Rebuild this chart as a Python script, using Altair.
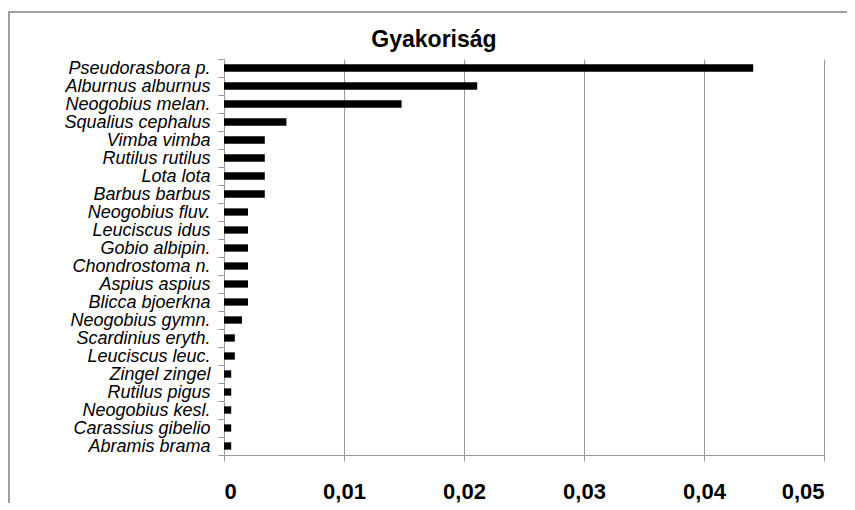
import altair as alt
import pandas as pd

species = [
    "Pseudorasbora p.", "Alburnus alburnus", "Neogobius melan.", "Squalius cephalus",
    "Vimba vimba", "Rutilus rutilus", "Lota lota", "Barbus barbus",
    "Neogobius fluv.", "Leuciscus idus", "Gobio albipin.", "Chondrostoma n.",
    "Aspius aspius", "Blicca bjoerkna", "Neogobius gymn.", "Scardinius eryth.",
    "Leuciscus leuc.", "Zingel zingel", "Rutilus pigus", "Neogobius kesl.",
    "Carassius gibelio", "Abramis brama",
]
frequency = [
    0.0441, 0.0211, 0.0148, 0.0052,
    0.0034, 0.0034, 0.0034, 0.0034,
    0.0020, 0.0020, 0.0020, 0.0020,
    0.0020, 0.0020, 0.0015, 0.0009,
    0.0009, 0.0006, 0.0006, 0.0006,
    0.0006, 0.0006,
]
x_ticks = [0, 0.01, 0.02, 0.03, 0.04, 0.05]
title_text = "Gyakoriság"

df = pd.DataFrame({"faj": species, "gyakorisag": frequency})

bars = alt.Chart(df).mark_bar(size=7.3, color="black").encode(
    y=alt.Y(
        "faj:N",
        sort=species,
        title=None,
        scale=alt.Scale(paddingInner=0, paddingOuter=0),
        axis=alt.Axis(
            tickBand="extent",
            tickSize=6,
            tickColor="#999999",
            domainColor="#999999",
            labelPadding=8,
            labelFont="Liberation Sans",
            labelFontSize=18,
            labelFontStyle="italic",
            labelColor="black",
            grid=False,
        ),
    ),
    x=alt.X(
        "gyakorisag:Q",
        title=None,
        scale=alt.Scale(domain=[0, 0.05], nice=False),
        axis=alt.Axis(
            values=x_ticks,
            labelExpr="replace(format(datum.value, '~g'), '.', ',')",
            tickSize=6,
            tickColor="#999999",
            domainColor="#999999",
            gridColor="#999999",
            gridWidth=1,
            labelPadding=20,
            labelFont="Liberation Sans",
            labelFontSize=22,
            labelFontWeight="bold",
            labelColor="black",
        ),
    ),
)

border = alt.Chart(pd.DataFrame({"a": [0]})).mark_rect(
    fill=None, stroke="#a0a0a0", strokeWidth=2
).encode(
    x=alt.value(-215), x2=alt.value(700),
    y=alt.value(-47), y2=alt.value(600),
)

title = alt.Chart(pd.DataFrame({"t": [title_text]})).mark_text(
    font="Liberation Sans", fontSize=23, fontWeight="bold", color="black",
    align="center", baseline="alphabetic",
).encode(
    text="t:N",
    x=alt.value(210),
    y=alt.value(-12),
)

chart = alt.layer(border, bars, title).properties(
    width=600,
    height=396,
    autosize=alt.AutoSizeParams(type="none"),
    padding={"left": 216, "top": 51, "right": 23, "bottom": 48},
).configure_view(stroke=None)

chart.save("out.html", embed_options={"renderer": "svg", "actions": False})
